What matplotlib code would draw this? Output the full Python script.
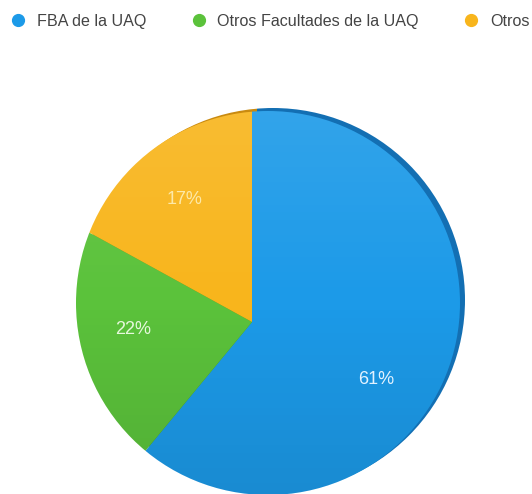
import matplotlib
matplotlib.use("Agg")
import matplotlib.pyplot as plt
import numpy as np
from matplotlib.lines import Line2D
from matplotlib.patches import Circle

plt.rcParams['font.family'] = ['Liberation Sans', 'DejaVu Sans']

categories = ["FBA de la UAQ", "Otros Facultades de la UAQ", "Otros"]
values = [61, 22, 17]
colors = ["#1c9ae8", "#5bc23b", "#f8b51c"]
rim_colors = ["#136fb3", "#3f9228", "#c98a10"]
label_colors = ["#e2f2ff", "#e6f8dc", "#fde9a8"]

W, H = 532, 494
fig = plt.figure(figsize=(W / 100, H / 100), dpi=100)
ax = fig.add_axes([0, 0, 1, 1])

# geometry in pixels (y measured upward)
apex = (252, H - 322)          # where the wedges meet
face_c, face_r = (268, H - 303), 192
rim_off = (5, 3)

# darker rim (disc thickness), visible at upper right
rim_clip = Circle((face_c[0] + rim_off[0], face_c[1] + rim_off[1]), face_r,
                  facecolor='none', edgecolor='none')
ax.add_patch(rim_clip)
rw, _ = ax.pie(values, colors=rim_colors, startangle=90, counterclock=False,
               radius=320, center=(apex[0] + rim_off[0], apex[1] + rim_off[1]),
               wedgeprops=dict(linewidth=0), frame=True)
for w in rw:
    w.set_clip_on(True)
    w.set_clip_path(rim_clip)

# face
face_clip = Circle(face_c, face_r, facecolor='none', edgecolor='none')
ax.add_patch(face_clip)
fw, _ = ax.pie(values, colors=colors, startangle=90, counterclock=False,
               radius=320, center=apex, wedgeprops=dict(linewidth=0), frame=True)
for w in fw:
    w.set_clip_on(True)
    w.set_clip_path(face_clip)

# subtle vertical shading (lighter top, darker bottom)
grad = np.linspace(0, 1, 256).reshape(-1, 1)
rgba = np.zeros((256, 1, 4))
rgba[..., :3] = np.where(grad[..., None] < 0.5, 1.0, 0.0)
rgba[..., 3] = (np.abs(grad - 0.5) * 0.2)
im = ax.imshow(rgba, extent=(face_c[0] - face_r, face_c[0] + face_r,
                             face_c[1] - face_r, face_c[1] + face_r),
               origin='upper', aspect='auto', zorder=3, interpolation='bilinear')
im.set_clip_path(face_clip)

ax.set_xlim(0, W)
ax.set_ylim(0, H)
ax.set_aspect('auto')
ax.set_axis_off()

# percentage labels
label_pos = [(376, 379), (133, 329), (185, 199)]
for v, (px, py), lc in zip(values, label_pos, label_colors):
    ax.text(px, H - py, f"{v}%", color=lc, fontsize=13,
            ha="center", va="center", zorder=5)

handles = [Line2D([0], [0], marker='o', linestyle='none', markersize=8.5,
                  markerfacecolor=c, markeredgecolor=c) for c in colors]
fig.legend(handles, categories, loc='upper left', ncol=3,
           bbox_to_anchor=(10 / W, 1 - 14 / H), frameon=False,
           fontsize=11.6, handlelength=1.0, handletextpad=0.67,
           columnspacing=2.75, borderpad=0, borderaxespad=0,
           labelcolor="#444444")

fig.savefig("out.png", dpi=100, facecolor="white")
